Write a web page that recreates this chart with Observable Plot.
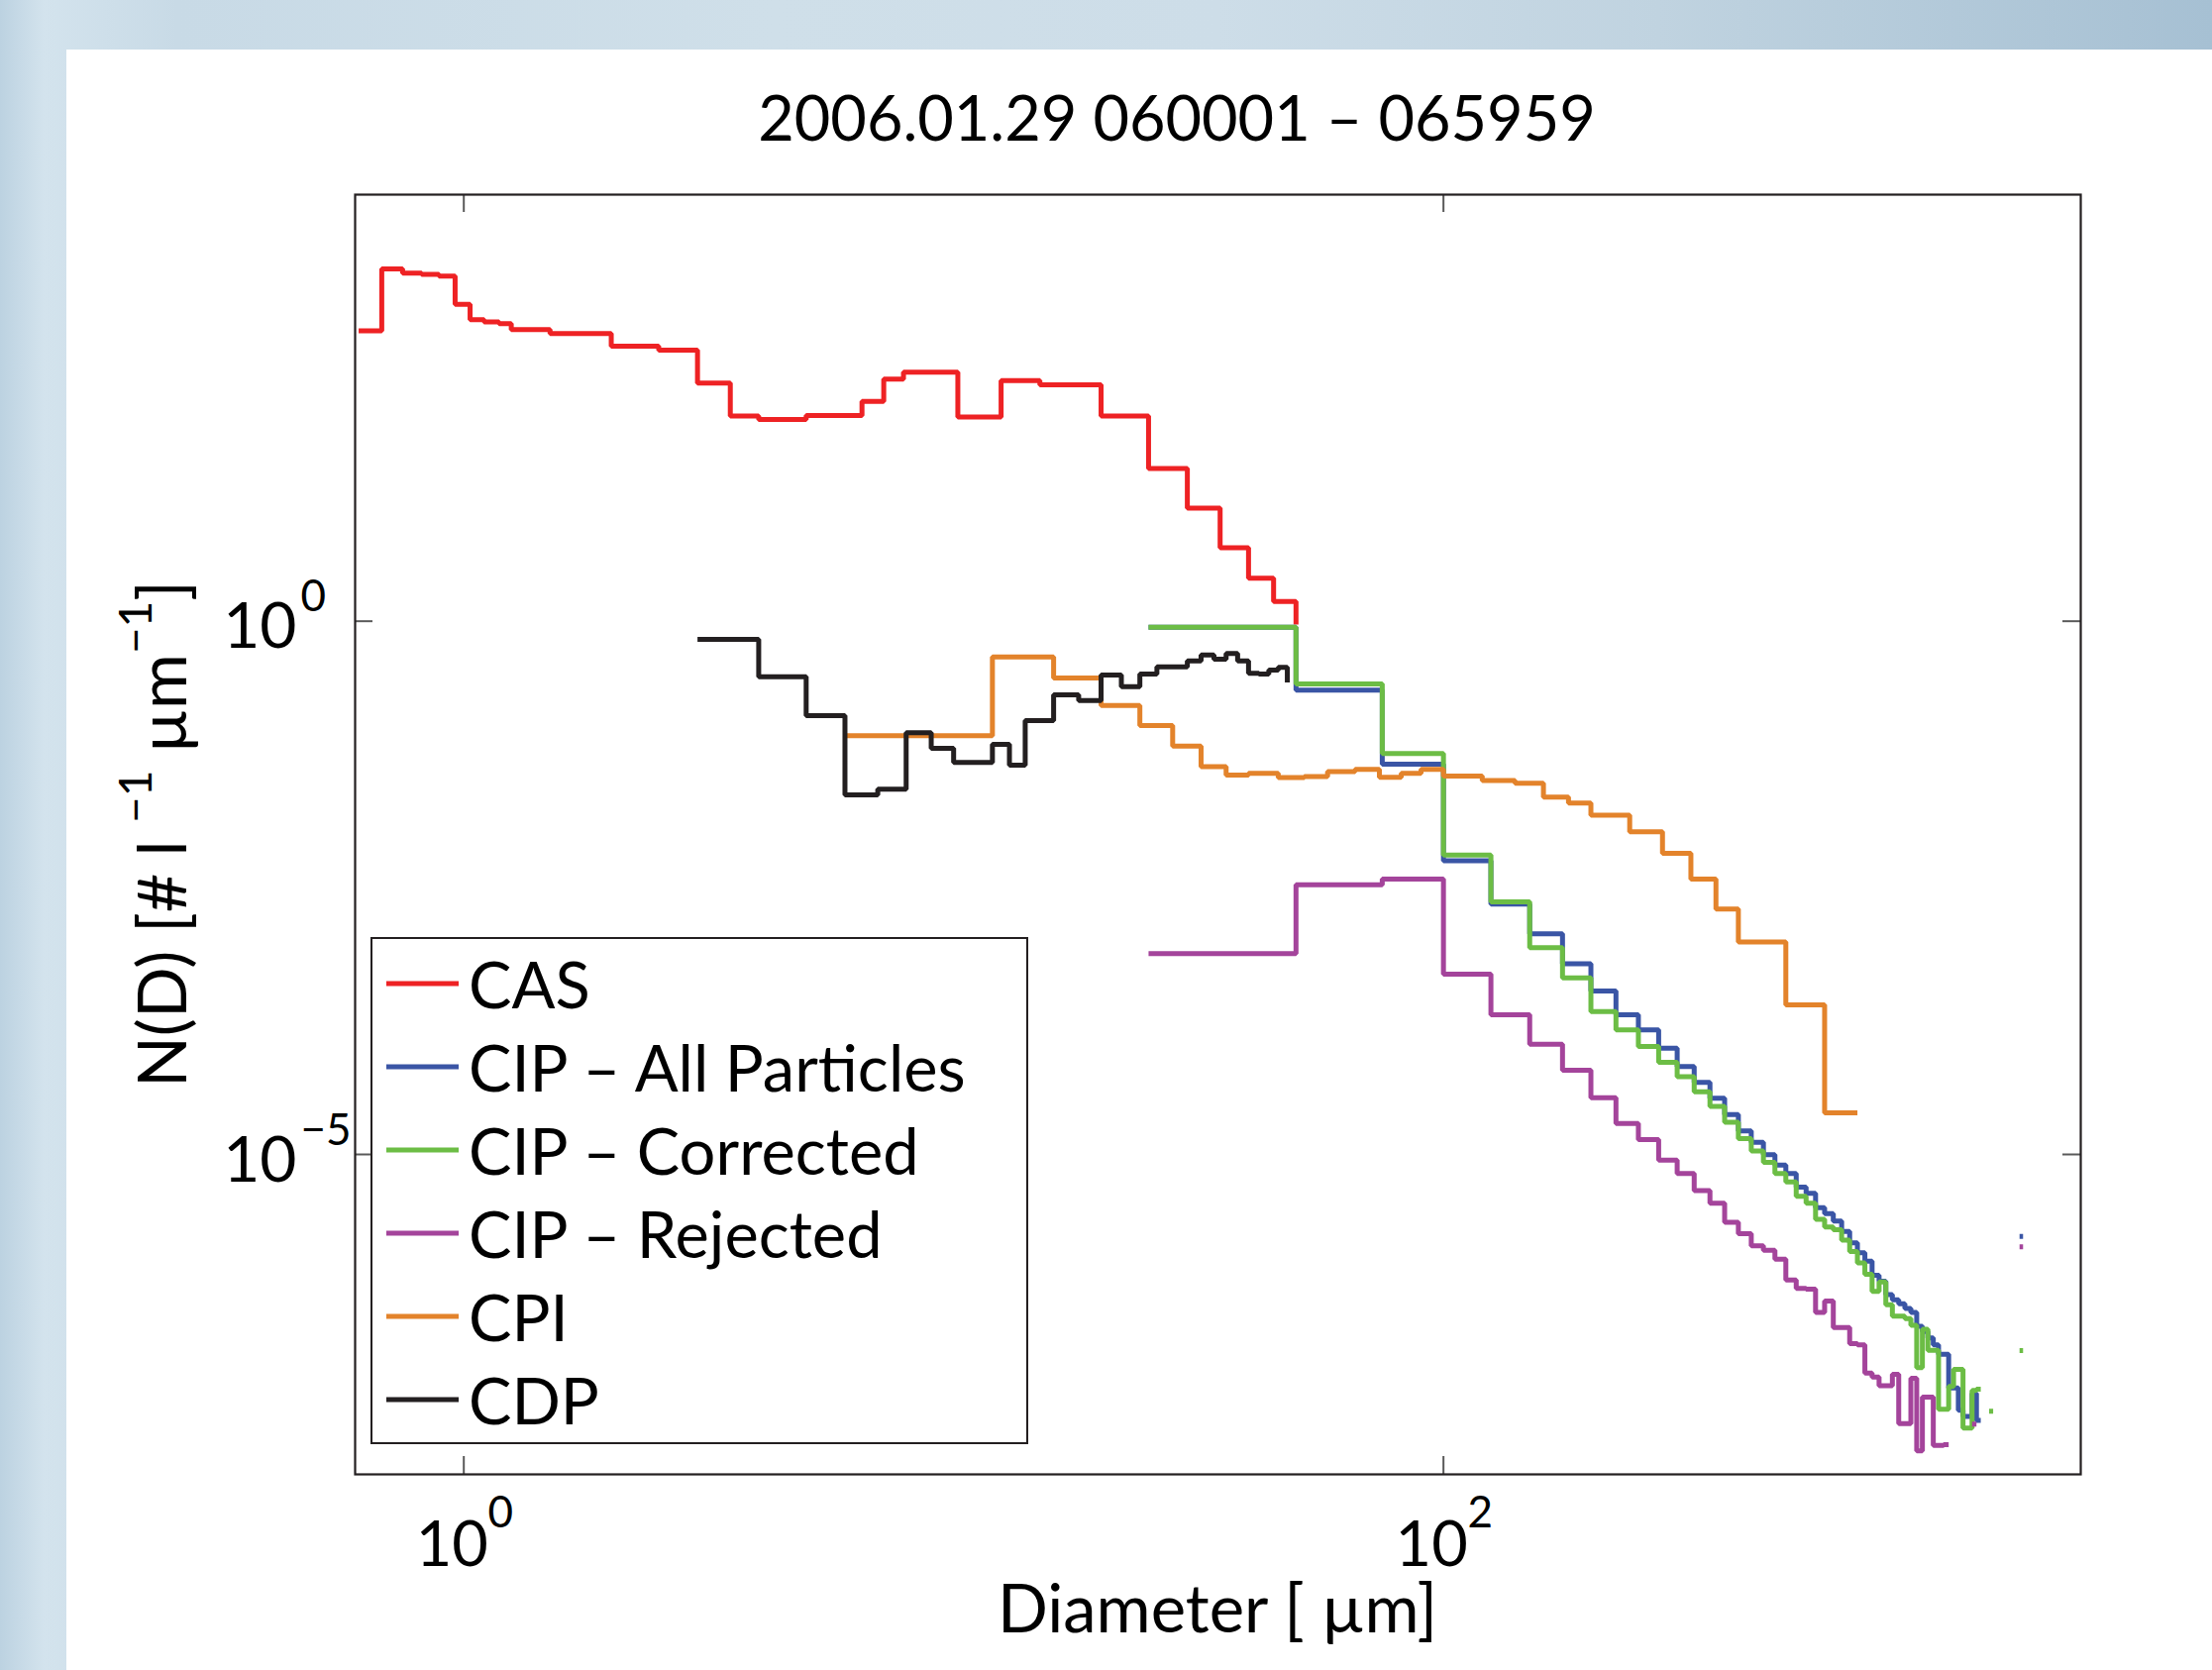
<!DOCTYPE html>
<html>
<head>
<meta charset="utf-8">
<script src="https://cdn.jsdelivr.net/npm/d3@7"></script>
<script src="https://cdn.jsdelivr.net/npm/@observablehq/plot@0.6"></script>
<style>
  html, body { margin: 0; padding: 0; }
  body {
    width: 2233px; height: 1686px; position: relative; overflow: hidden;
    font-family: Lato, "Open Sans", sans-serif;
    background: linear-gradient(90deg, #bcd2e1 0%, #d3e3ed 2%, #c8dae6 8%, #cfdfe9 35%, #cddde8 55%, #c0d3e0 75%, #a6c0d3 100%);
  }
  #panel { position: absolute; left: 67px; top: 50px; width: 2166px; height: 1636px; background: #fff; }
  #chart { position: absolute; left: 0; top: 0; }
</style>
</head>
<body>
<div id="panel"><div id="chart"></div></div>
<script>
// ---------- data ----------
const titleText = "2006.01.29 060001 \u2013 065959";
const xLabel = "Diameter [ \u00b5m]";

const xTicks = [1, 100];
const xTickExp = ["0", "2"];
const yTicks = [1, 1e-5];
const yTickExp = ["0", "\u22125"];

const seriesNames = ["CAS", "CIP \u2013 All Particles", "CIP \u2013 Corrected", "CIP \u2013 Rejected", "CPI", "CDP"];
const seriesColors = ["#ee2224", "#3a55a5", "#6cbd45", "#a4449b", "#e3832b", "#231f20"];

// CAS: bin edges [um] and N(D) [# l^-1 um^-1] (MATLAB-stairs style: last value is the end point)
const casEdges = [0.61,0.68,0.75,0.82,0.89,0.96,1.03,1.1,1.18,1.25,1.5,2,2.5,3,3.5,4,5,6.5,7.2,7.9,10.2,12.5,15,20,25,30,35,40,45,50];
const casValues = [528,2010,1840,1790,1720,936,673,641,618,543,499,380,349,171,83.8,78,85,115,186,216,82,180,165,84,27.1,11.5,4.88,2.53,1.53,0.93];

// CIP bins (25 um)
const cipEdges = [25,50,75,100,125,150,175,200,225,250,275,300,325,350,375,400,425,450,475,500,525,550,575,600,625,650,675,700,725,750,775,800,825,850,875,900,925,950,975,1000,1025,1050,1075,1100,1125,1150,1175,1200,1225,1250,1275,1300,1325,1350,1375,1400,1425,1450,1475,1500,1525,1550];
const cipAllValues = [
  0.879,0.226,0.0457,5.66e-3,2.23e-3,1.17e-3,6.14e-4,3.40e-4,2.04e-4,1.47e-4,
  9.93e-5,6.68e-5,4.73e-5,3.36e-5,2.37e-5,1.66e-5,1.30e-5,9.95e-6,7.94e-6,6.61e-6,
  4.95e-6,4.32e-6,3.16e-6,2.79e-6,2.37e-6,1.90e-6,1.48e-6,1.20e-6,1.00e-6,7.36e-7,
  6.46e-7,4.86e-7,4.34e-7,3.98e-7,3.59e-7,3.3e-7,2.44e-7,2.19e-7,1.9e-7,1.64e-7,
  1.34e-7,1.34e-7,6.46e-8,6.46e-8,4.0e-8,3.5e-8,3.5e-8,5.75e-8,3.2e-8,null,
  null,null,null,null,null,null,null,null,null,1.70e-6,
  null,null];
const cipCorrValues = [
  0.879,0.258,0.0575,6.43e-3,2.33e-3,8.71e-4,4.53e-4,2.19e-4,1.47e-4,1.03e-4,
  7.31e-5,5.36e-5,3.86e-5,2.82e-5,2.00e-5,1.41e-5,1.08e-5,8.45e-6,6.61e-6,5.51e-6,
  4.05e-6,3.48e-6,2.47e-6,2.09e-6,1.97e-6,1.57e-6,1.23e-6,9.59e-7,7.52e-7,5.19e-7,
  6.38e-7,3.90e-7,3.05e-7,3.05e-7,2.88e-7,2.5e-7,1.00e-7,2.29e-7,1.46e-7,1.46e-7,
  4.08e-8,4.08e-8,6.68e-8,9.66e-8,9.66e-8,2.72e-8,2.72e-8,6.14e-8,6.3e-8,null,
  null,3.9e-8,null,null,null,null,null,null,null,1.45e-7,
  null,null];
const cipRejValues = [
  7.66e-4,3.38e-3,3.81e-3,4.90e-4,2.04e-4,1.08e-4,6.17e-5,3.41e-5,1.95e-5,1.38e-5,
  8.83e-6,6.61e-6,4.57e-6,3.48e-6,2.31e-6,1.81e-6,1.39e-6,1.26e-6,1.04e-6,6.64e-7,
  5.55e-7,5.46e-7,3.30e-7,4.23e-7,2.38e-7,2.38e-7,1.68e-7,1.64e-7,8.89e-8,8.18e-8,
  6.79e-8,6.79e-8,8.69e-8,2.99e-8,2.99e-8,7.98e-8,1.66e-8,5.31e-8,5.31e-8,1.87e-8,
  1.87e-8,1.9e-8,null,null,null,null,null,2.96e-8,null,null,
  null,null,null,null,null,null,null,null,null,1.36e-6,
  null,null];

// CPI
const cpiEdges = [6,12,16,20,24,28,32,36,40,46,52,58,66,74,82,90,100,120,140,160,180,200,240,280,320,360,400,500,600,700];
const cpiValues = [0.0845,0.462,0.293,0.162,0.105,0.0673,0.0433,0.0361,0.0375,0.0342,0.0349,0.0389,0.0408,0.0344,0.0375,0.0408,0.0354,0.0321,0.0303,0.0224,0.0197,0.0152,0.0106,0.00665,0.00381,0.00200,0.000984,0.000253,2.46e-5,2.46e-5];

// CDP
const cdpEdges = [3,4,5,6,7,8,9,10,11,12,13,14,16,18,20,22,24,26,28,30,32,34,36,38,40,42,44,46,48];
const cdpValues = [0.676,0.301,0.130,0.0235,0.0266,0.0902,0.0643,0.0474,0.0474,0.0702,0.0448,0.117,0.204,0.180,0.313,0.243,0.319,0.373,0.373,0.425,0.483,0.440,0.498,0.425,0.324,0.319,0.348,0.369,0.267];

// ---------- stairs table (like MATLAB stairs) ----------
function stairs(edges, values) {
  const pts = [];
  const n = edges.length;
  for (let i = 0; i < n - 1; i++) {
    const v = values[i];
    if (v == null) { pts.push({x: edges[i], y: NaN}); continue; }
    pts.push({x: edges[i], y: v}, {x: edges[i + 1], y: v});
  }
  const last = values[n - 1];
  if (last != null) pts.push({x: edges[n - 1], y: last});
  return pts;
}

const series = [
  stairs(casEdges, casValues),
  stairs(cipEdges, cipAllValues),
  stairs(cipEdges, cipCorrValues),
  stairs(cipEdges, cipRejValues),
  stairs(cpiEdges, cpiValues),
  stairs(cdpEdges, cdpValues)
];

const W = 2166, H = 1636;
const mL = 291, mR = 133, mT = 146, mB = 198;
const fw = W - mL - mR, fh = H - mT - mB;
const tickLen = 18;
const tickColor = "#5a5a5a";
const lineW = 5;

const lineMarks = series.map((data, i) => Plot.line(data, {
  x: "x", y: "y", stroke: seriesColors[i], strokeWidth: lineW,
  strokeLinejoin: "miter", strokeLinecap: "butt"
}));

const chart = Plot.plot({
  width: W, height: H,
  marginLeft: mL, marginRight: mR, marginTop: mT, marginBottom: mB,
  style: {fontFamily: "Lato, 'Open Sans', sans-serif", background: "white", overflow: "visible"},
  x: {type: "log", domain: [0.6, 2000], axis: null},
  y: {type: "log", domain: [1e-8, 1e4], axis: null},
  marks: [
    ...lineMarks,
    // inward ticks on all four sides
    Plot.ruleX(xTicks, {x: d => d, insetTop: fh - tickLen, stroke: tickColor, strokeWidth: 2}),
    Plot.ruleX(xTicks, {x: d => d, insetBottom: fh - tickLen, stroke: tickColor, strokeWidth: 2}),
    Plot.ruleY(yTicks, {y: d => d, insetRight: fw - tickLen, stroke: tickColor, strokeWidth: 2}),
    Plot.ruleY(yTicks, {y: d => d, insetLeft: fw - tickLen, stroke: tickColor, strokeWidth: 2}),
    Plot.frame({stroke: "#231f20", strokeWidth: 2.2}),
    // tick labels 10^n
    Plot.text(xTicks, {x: d => d, text: () => "10", frameAnchor: "bottom", lineAnchor: "bottom",
      dy: 92, dx: -12, fontSize: 63, fill: "#000"}),
    Plot.text(xTicks, {x: d => d, text: (d, i) => xTickExp[i], frameAnchor: "bottom", lineAnchor: "bottom",
      dy: 53, dx: 37, fontSize: 44, fill: "#000"}),
    Plot.text(yTicks, {y: d => d, text: () => "10", frameAnchor: "left", textAnchor: "end", lineAnchor: "bottom",
      dx: -59, dy: 27, fontSize: 64, fill: "#000"}),
    Plot.text(yTicks, {y: d => d, text: (d, i) => yTickExp[i], frameAnchor: "left", textAnchor: "start", lineAnchor: "bottom",
      dx: -55, dy: -10, fontSize: 44, fill: "#000"})
  ]
});

document.getElementById("chart").appendChild(chart);

const svg = d3.select(chart);

// title
svg.append("text")
  .attr("x", 1121).attr("y", 92)
  .attr("text-anchor", "middle")
  .attr("font-size", 63).attr("fill", "#000")
  .text(titleText);

// x label
svg.append("text")
  .attr("x", 1162).attr("y", 1598)
  .attr("text-anchor", "middle")
  .attr("font-size", 67).attr("fill", "#000")
  .text(xLabel);

// y label (rotated, with superscripts)
const yl = svg.append("text")
  .attr("transform", "translate(121,792) rotate(-90)")
  .attr("text-anchor", "middle")
  .attr("font-size", 68).attr("fill", "#000");
yl.append("tspan").text("N(D) [# l ");
yl.append("tspan").attr("dy", -35).attr("font-size", 46).text("\u22121");
yl.append("tspan").attr("dy", 35).text(" \u00b5m");
yl.append("tspan").attr("dy", -35).attr("font-size", 46).text("\u22121");
yl.append("tspan").attr("dy", 35).text("]");

// legend
const lg = svg.append("g").attr("text-anchor", "start");
lg.append("rect")
  .attr("x", 308).attr("y", 897).attr("width", 662).attr("height", 510)
  .attr("fill", "#fff").attr("stroke", "#231f20").attr("stroke-width", 2);
const rowY = [943, 1027, 1111, 1195, 1279, 1363];
seriesNames.forEach((name, i) => {
  lg.append("line")
    .attr("x1", 323).attr("x2", 396).attr("y1", rowY[i]).attr("y2", rowY[i])
    .attr("stroke", seriesColors[i]).attr("stroke-width", lineW);
  lg.append("text")
    .attr("x", 406).attr("y", rowY[i] + 25)
    .attr("text-anchor", "start")
    .attr("font-size", 65).attr("fill", "#000")
    .text(name);
});
</script>
</body>
</html>
